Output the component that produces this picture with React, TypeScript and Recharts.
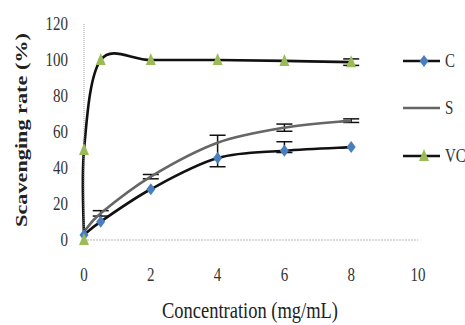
import { CartesianGrid, ErrorBar, Line, LineChart, XAxis, YAxis } from "recharts";

// concentration (mg/mL) and scavenging rate (%) per sample
const conc = [0, 0.5, 2, 4, 6, 8];
const cValues = [2.8, 10.2, 28.2, 45.5, 49.6, 51.6];
// [below, above] error as drawn in the figure
const cErrors = [null, null, null, [4.8, 12.7], [1, 5], null];
const sValues = [4.5, 14.8, 35.2, 54, 62.4, 66.3];
const sErrors = [null, 1.5, 1.2, null, 2, 1];
const vcConc = [0, 0, 0.5, 2, 4, 6, 8];
const vcValues = [0, 50, 100, 100, 100, 99.5, 98.8];
const vcErrors = [null, null, null, null, null, null, 1.8];

const xTicks = [0, 2, 4, 6, 8, 10];
const yTicks = [0, 20, 40, 60, 80, 100, 120];
const legendNames = ["C", "S", "VC"];

const cData = conc.map((x, i) => ({ x, y: cValues[i], err: cErrors[i] }));
const sData = conc.map((x, i) => ({ x, y: sValues[i], err: sErrors[i] }));
const vcData = vcConc.map((x, i) => ({ x, y: vcValues[i], err: vcErrors[i] }));

const FONT = "'Liberation Serif', 'Times New Roman', serif";
const BLUE = "#4a7ebf";
const GREEN = "#9bbb59";
const STRETCH = 1.27;

// Catmull-Rom style smoothing, close to what spreadsheet "smoothed line" does
function smoothCurve(context: any) {
  let pts: number[][] = [];
  return {
    areaStart() {},
    areaEnd() {},
    lineStart() {
      pts = [];
    },
    point(x: number, y: number) {
      pts.push([+x, +y]);
    },
    lineEnd() {
      if (!pts.length) return;
      context.moveTo(pts[0][0], pts[0][1]);
      for (let i = 0; i < pts.length - 1; i++) {
        const p0 = pts[Math.max(i - 1, 0)];
        const p1 = pts[i];
        const p2 = pts[i + 1];
        const p3 = pts[Math.min(i + 2, pts.length - 1)];
        context.bezierCurveTo(
          p1[0] + (p2[0] - p0[0]) / 6,
          p1[1] + (p2[1] - p0[1]) / 6,
          p2[0] - (p3[0] - p1[0]) / 6,
          p2[1] - (p3[1] - p1[1]) / 6,
          p2[0],
          p2[1]
        );
      }
    },
  };
}

function Diamond({ cx, cy }: { cx: number; cy: number }) {
  return <path d={`M${cx},${cy - 6}L${cx + 4.5},${cy}L${cx},${cy + 6}L${cx - 4.5},${cy}Z`} fill={BLUE} />;
}

function Triangle({ cx, cy }: { cx: number; cy: number }) {
  return <path d={`M${cx},${cy - 7}L${cx + 5},${cy + 5}L${cx - 5},${cy + 5}Z`} fill={GREEN} />;
}

const renderDiamond = (props: any) => <Diamond key={`c-${props.index}`} cx={props.cx} cy={props.cy} />;
const renderTriangle = (props: any) => <Triangle key={`v-${props.index}`} cx={props.cx} cy={props.cy} />;

function YTick({ x, y, payload }: any) {
  return (
    <text
      transform={`translate(${x},${y}) scale(1,${STRETCH})`}
      textAnchor="end"
      dominantBaseline="central"
      fontFamily={FONT}
      fontSize={15}
      fill="#333"
    >
      {payload.value}
    </text>
  );
}

function XTick({ x, y, payload }: any) {
  return (
    <text
      transform={`translate(${x},${y}) scale(1,${STRETCH})`}
      textAnchor="middle"
      dominantBaseline="central"
      fontFamily={FONT}
      fontSize={15}
      fill="#333"
    >
      {payload.value}
    </text>
  );
}

function LegendOverlay() {
  const rows = [
    { y: 61, stroke: "#111", marker: "diamond" },
    { y: 108, stroke: "#666", marker: "none" },
    { y: 156, stroke: "#111", marker: "triangle" },
  ];
  return (
    <svg width={465} height={325} style={{ position: "absolute", left: 0, top: 0, pointerEvents: "none" }}>
      {rows.map((row, i) => (
        <g key={legendNames[i]}>
          <line x1={403} x2={440} y1={row.y} y2={row.y} stroke={row.stroke} strokeWidth={2.5} />
          {row.marker === "diamond" && <Diamond cx={424} cy={row.y} />}
          {row.marker === "triangle" && <Triangle cx={424} cy={row.y} />}
          <text
            transform={`translate(445,${row.y}) scale(1,${STRETCH})`}
            dominantBaseline="central"
            fontFamily={FONT}
            fontSize={15}
            fill="#333"
          >
            {legendNames[i]}
          </text>
        </g>
      ))}
      <text
        transform={`translate(21,130) rotate(-90) scale(${STRETCH},1)`}
        textAnchor="middle"
        dominantBaseline="central"
        fontFamily={FONT}
        fontWeight="bold"
        fontSize={17.5}
        fill="#222"
      >
        Scavenging rate (%)
      </text>
      <text
        transform={`translate(250,318) scale(1,${STRETCH})`}
        textAnchor="middle"
        fontFamily={FONT}
        fontSize={18.5}
        fill="#222"
      >
        Concentration (mg/mL)
      </text>
    </svg>
  );
}

export default function App() {
  return (
    <div style={{ position: "absolute", left: 0, top: 0, width: 465, height: 325, background: "#fff" }}>
      <LineChart width={465} height={325} margin={{ top: 24, right: 47, bottom: 0, left: 0 }}>
        <CartesianGrid horizontal={false} vertical={false} stroke="#eee" />
        <XAxis
          type="number"
          dataKey="x"
          domain={[0, 10]}
          ticks={xTicks}
          height={85}
          tickLine={false}
          tickSize={0}
          tickMargin={35}
          axisLine={{ stroke: "#b5b5b5", strokeDasharray: "2 1" }}
          tick={<XTick />}
          allowDuplicatedCategory={false}
        />
        <YAxis
          type="number"
          domain={[0, 120]}
          ticks={yTicks}
          width={84}
          tickLine={false}
          tickSize={0}
          tickMargin={16}
          axisLine={{ stroke: "#999", strokeDasharray: "1 1" }}
          tick={<YTick />}
        />
        <Line
          data={cData}
          dataKey="y"
          name="C"
          type={smoothCurve as any}
          stroke="#111"
          strokeWidth={2.6}
          dot={renderDiamond}
          activeDot={false}
          isAnimationActive={false}
        >
          <ErrorBar dataKey="err" direction="y" width={8} stroke="#111" strokeWidth={1.5} />
        </Line>
        <Line
          data={sData}
          dataKey="y"
          name="S"
          type={smoothCurve as any}
          stroke="#666"
          strokeWidth={2.6}
          dot={false}
          activeDot={false}
          isAnimationActive={false}
        >
          <ErrorBar dataKey="err" direction="y" width={8} stroke="#111" strokeWidth={1.5} />
        </Line>
        <Line
          data={vcData}
          dataKey="y"
          name="VC"
          type={smoothCurve as any}
          stroke="#111"
          strokeWidth={2.6}
          dot={renderTriangle}
          activeDot={false}
          isAnimationActive={false}
        >
          <ErrorBar dataKey="err" direction="y" width={8} stroke="#111" strokeWidth={1.5} />
        </Line>
      </LineChart>
      <LegendOverlay />
    </div>
  );
}
